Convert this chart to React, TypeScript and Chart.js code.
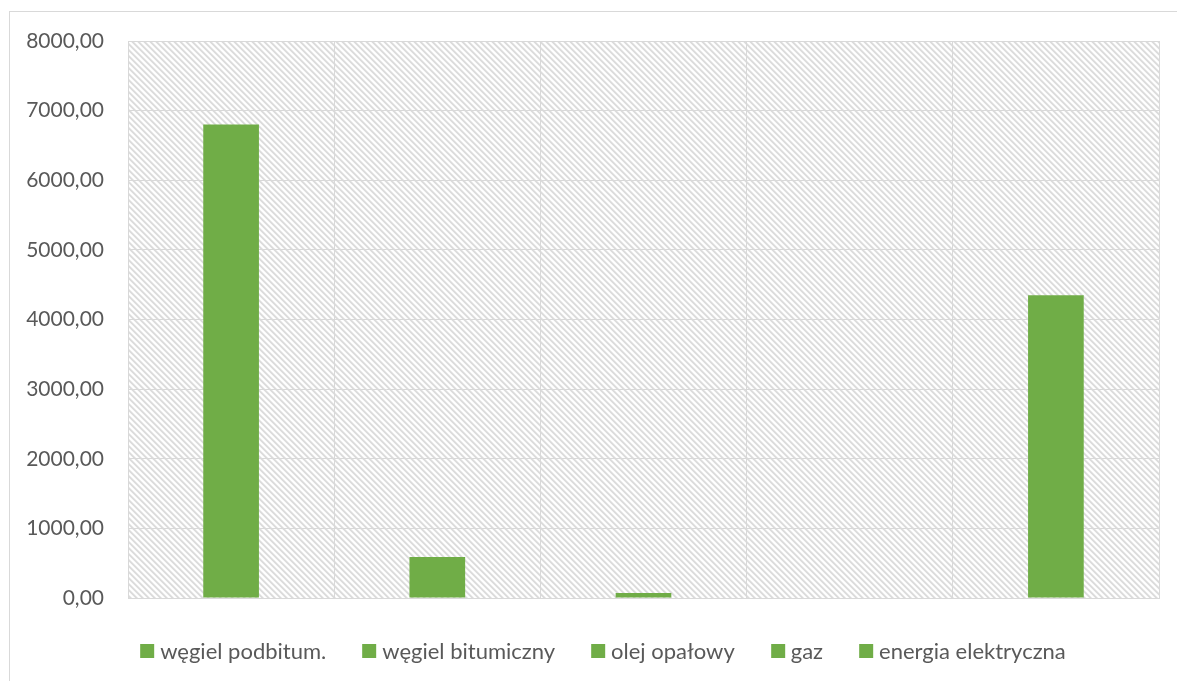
import { useEffect, useRef } from "react";
import { Chart, registerables } from "chart.js";

Chart.register(...registerables);

// Fuel categories and their values
const categories: string[] = [
  "węgiel podbitum.",
  "węgiel bitumiczny",
  "olej opałowy",
  "gaz",
  "energia elektryczna",
];
const values: number[] = [6800, 588, 72, 0, 4350];

// Value axis range
const yMin = 0;
const yMax = 8000;
const yStep = 1000;

const barColor = "#70ad47";
const gridColor = "#d9d9d9";
const textColor = "#595959";
const fontFamily = "Lato, 'Open Sans', sans-serif";

const formatTick = (v: number) => v.toFixed(2).replace(".", ",");

// Fills the plot area with a light downward-diagonal hatch before grid and bars are drawn
const hatchPlugin = {
  id: "hatchBackground",
  beforeDraw(chart: any) {
    const { ctx, chartArea: a } = chart;
    if (!a) return;
    const size = 6;
    const tile = document.createElement("canvas");
    tile.width = size;
    tile.height = size;
    const tctx = tile.getContext("2d")!;
    const img = tctx.createImageData(size, size);
    const shades = [220, 220, 236, 255, 255, 246];
    for (let y = 0; y < size; y++) {
      for (let x = 0; x < size; x++) {
        const k = (((x - y) % size) + size) % size;
        const c = shades[k];
        const i = (y * size + x) * 4;
        img.data[i] = c;
        img.data[i + 1] = c;
        img.data[i + 2] = c;
        img.data[i + 3] = 255;
      }
    }
    tctx.putImageData(img, 0, 0);
    const pattern = ctx.createPattern(tile, "repeat");
    ctx.save();
    ctx.fillStyle = pattern;
    ctx.fillRect(a.left, a.top, a.right - a.left, a.bottom - a.top);
    ctx.restore();
  },
};

export default function App() {
  const canvasRef = useRef<HTMLCanvasElement>(null);

  useEffect(() => {
    let chart: Chart | null = null;
    let cancelled = false;
    const build = () => {
      if (cancelled || !canvasRef.current) return;
      chart = new Chart(canvasRef.current, {
        type: "bar",
        data: {
          labels: categories,
          datasets: [
            {
              data: values,
              backgroundColor: barColor,
              borderWidth: 0,
              categoryPercentage: 1,
              barPercentage: 0.27,
            },
          ],
        },
        options: {
          responsive: false,
          animation: false,
          layout: { padding: { left: 0, right: 18, top: 41, bottom: 83 } },
          plugins: {
            legend: { display: false },
            tooltip: { enabled: false },
          },
          scales: {
            x: {
              ticks: { display: false },
              grid: { color: gridColor, lineWidth: 1, drawTicks: false, offset: true },
              border: { color: gridColor, width: 1 },
              afterFit: (scale: any) => {
                scale.height = 0;
              },
            },
            y: {
              min: yMin,
              max: yMax,
              ticks: {
                stepSize: yStep,
                padding: 24,
                color: textColor,
                font: { family: fontFamily, size: 21 },
                callback: (v: any) => formatTick(Number(v)),
              },
              grid: { color: gridColor, lineWidth: 1, drawTicks: false },
              border: { color: gridColor, width: 1 },
              afterFit: (scale: any) => {
                scale.width = 128;
              },
            },
          },
        },
        plugins: [hatchPlugin],
      });
    };
    const fonts: any = (document as any).fonts;
    if (fonts && fonts.load) {
      fonts.load("21px Lato").then(build, build);
    } else {
      build();
    }
    return () => {
      cancelled = true;
      if (chart) chart.destroy();
    };
  }, []);

  return (
    <div style={{ position: "fixed", inset: 0, overflow: "hidden", background: "#fff" }}>
      <div
        style={{
          position: "absolute",
          left: 9,
          top: 11,
          width: 1200,
          height: 700,
          border: `1px solid ${gridColor}`,
        }}
      />
      <div style={{ position: "absolute", left: 0, top: 0, width: 1177, height: 681 }}>
        <canvas ref={canvasRef} width={1177} height={681} style={{ display: "block" }} />
      </div>
      <div
        style={{
          position: "absolute",
          top: 640,
          left: 603,
          transform: "translateX(-50%)",
          display: "flex",
          alignItems: "center",
          columnGap: 36,
          height: 22,
          whiteSpace: "nowrap",
          fontFamily,
          fontSize: 22,
          lineHeight: "22px",
          color: textColor,
        }}
      >
        {categories.map((c) => (
          <div key={c} style={{ display: "flex", alignItems: "center" }}>
            <span
              style={{
                display: "inline-block",
                width: 14,
                height: 14,
                background: barColor,
                marginRight: 6,
              }}
            />
            <span>{c}</span>
          </div>
        ))}
      </div>
    </div>
  );
}
